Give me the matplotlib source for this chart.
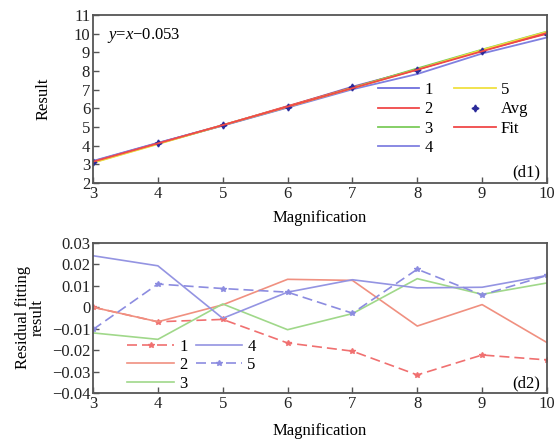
import numpy as np
import matplotlib
matplotlib.use("Agg")
import matplotlib.pyplot as plt

plt.rcParams['font.family'] = ['Liberation Serif', 'DejaVu Serif']
plt.rcParams['mathtext.fontset'] = 'custom'
plt.rcParams['mathtext.it'] = 'Liberation Serif:italic'
plt.rcParams['mathtext.rm'] = 'Liberation Serif'

# magnification
mag = [3, 4, 5, 6, 7, 8, 9, 10]

# (d1) measured results, five runs
res1 = [3.16, 4.14, 5.10, 6.10, 7.16, 8.08, 9.12, 10.04]
res2 = [3.14, 4.12, 5.09, 6.12, 7.12, 8.10, 9.10, 10.00]
res3 = [3.10, 4.10, 5.08, 6.06, 7.10, 8.14, 9.15, 10.12]
res4 = [3.18, 4.15, 5.07, 6.04, 7.02, 7.84, 8.94, 9.80]
res5 = [3.08, 4.08, 5.10, 6.08, 7.08, 8.08, 9.13, 10.10]
avg = [3.12, 4.12, 5.08, 6.08, 7.12, 8.06, 9.08, 10.00]
fit = [3.14, 4.12, 5.10, 6.09, 7.08, 8.07, 9.06, 10.04]  # y=x-0.053 as drawn

# (d2) residuals
r1 = [0.0, -0.0068, -0.0057, -0.0167, -0.0205, -0.0316, -0.0223, -0.0246]
r2 = [0.0, -0.0068, 0.0011, 0.0130, 0.0125, -0.0088, 0.0012, -0.0165]
r3 = [-0.0120, -0.0150, 0.0015, -0.0105, -0.0030, 0.0133, 0.0060, 0.0113]
r4 = [0.0240, 0.0193, -0.0052, 0.0070, 0.0128, 0.0090, 0.0093, 0.0148]
r5 = [-0.0104, 0.0108, 0.0087, 0.0070, -0.0028, 0.0177, 0.0057, 0.0148]

fig = plt.figure(figsize=(5.57, 4.44), dpi=100)
ax1 = fig.add_axes([0.167, 0.588, 0.815, 0.378])
ax2 = fig.add_axes([0.167, 0.115, 0.815, 0.338])

c_blue = '#7070dd'
c_red = '#f04848'
c_green = '#7ccc5a'
c_blue2 = '#8080e0'
c_yel = '#f0e040'

x = np.array(mag)
ax1.plot(x, res1, color=c_blue, lw=1.3, label='1')
ax1.plot(x, res2, color=c_red, lw=1.3, label='2')
ax1.plot(x, res3, color=c_green, lw=1.3, label='3')
ax1.plot(x, res4, color=c_blue2, lw=1.3, label='4')
ax1.plot(x, res5, color=c_yel, lw=1.3, label='5')
ax1.plot(x, avg, ls='none', marker=(4, 1, 0), color='#2a2a9a', ms=5, label='Avg')
ax1.plot(x, fit, color=c_red, lw=1.3, label='Fit')
ax1.set_xlim(3, 10)
ax1.set_ylim(2, 11)
ax1.set_yticks(range(2, 12))
ax1.set_xlabel('Magnification', fontsize=12, labelpad=6)
ax1.set_ylabel('Result', fontsize=12, labelpad=16)
ax1.text(0.03, 0.86, r'$y$=$x$$-$0.053', transform=ax1.transAxes, fontsize=12)
ax1.text(0.985, 0.04, '(d1)', transform=ax1.transAxes, fontsize=12, ha='right')
ax1.legend(ncol=2, loc='lower right', bbox_to_anchor=(0.985, 0.09), frameon=False,
           fontsize=12, handlelength=2.5, handletextpad=0.3, labelspacing=0.2,
           columnspacing=1.3, borderpad=0.2)

ax2.plot(x, r1, color='#f07070', lw=1.2, ls=(0, (6, 3)), marker='*', ms=4, label='1')
ax2.plot(x, r2, color='#f09080', lw=1.2, label='2')
ax2.plot(x, r3, color='#a0d88a', lw=1.2, label='3')
ax2.plot(x, r4, color='#9494e2', lw=1.2, label='4')
ax2.plot(x, r5, color='#8c8ce0', lw=1.2, ls=(0, (6, 3)), marker='*', ms=4, label='5')
ax2.set_xlim(3, 10)
ax2.set_ylim(-0.04, 0.03)
yt = [-0.04, -0.03, -0.02, -0.01, 0, 0.01, 0.02, 0.03]
ax2.set_yticks(yt)
ax2.set_yticklabels(['\u22120.04', '\u22120.03', '\u22120.02', '\u22120.01', '0', '0.01', '0.02', '0.03'])
ax2.set_xlabel('Magnification', fontsize=12, labelpad=8)
ax2.set_ylabel('Residual fitting\nresult', fontsize=12, labelpad=4, linespacing=0.95)
ax2.text(0.985, 0.04, '(d2)', transform=ax2.transAxes, fontsize=12, ha='right')
ax2.legend(ncol=2, loc='lower left', bbox_to_anchor=(0.05, -0.07), frameon=False,
           fontsize=12, handlelength=2.8, handletextpad=0.3, labelspacing=0.15,
           columnspacing=0.5, borderpad=0.2)

for ax in (ax1, ax2):
    ax.set_xticks(mag)
    for s in ax.spines.values():
        s.set_color('#555555')
        s.set_linewidth(1.3)
    ax.tick_params(direction='in', length=4, width=1, colors='#555555',
                   labelcolor='#222222', labelsize=12, pad=2)

fig.savefig('out.png', dpi=100)
